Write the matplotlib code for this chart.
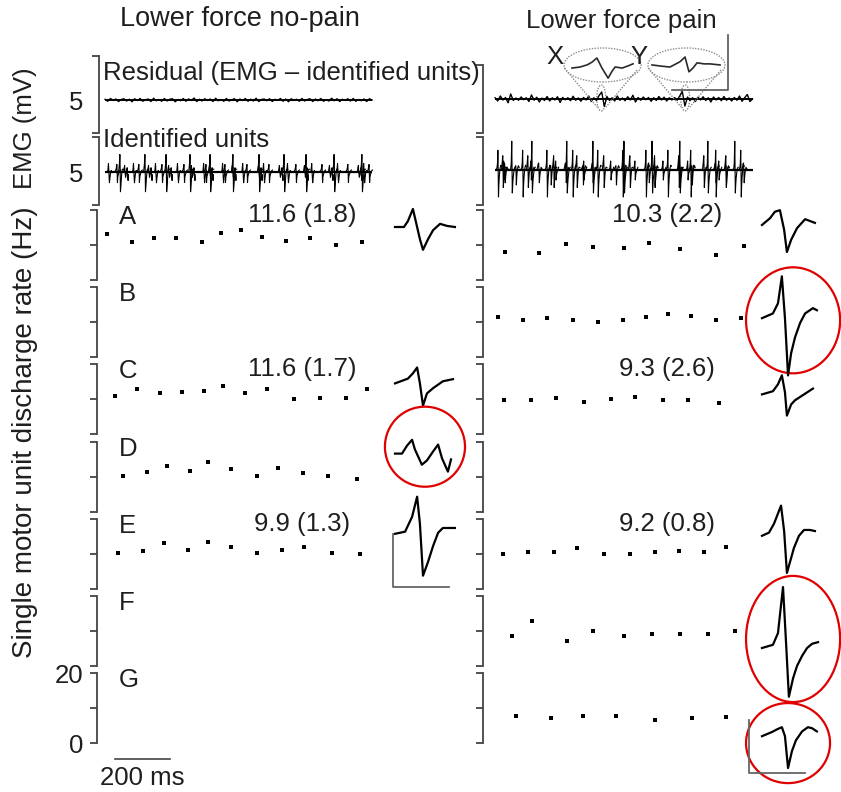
import numpy as np
import matplotlib
matplotlib.use('Agg')
import matplotlib.pyplot as plt
from matplotlib.patches import Ellipse

plt.rcParams['font.family'] = ['Liberation Sans', 'DejaVu Sans']

# ---------------- data ----------------
# discharge times (ms) and instantaneous discharge rates (Hz)
nopain_A_ms = [36, 127, 207, 287, 382, 451, 524, 600, 687, 775, 869, 964]
nopain_A_hz = [13.1, 10.9, 12.0, 12.0, 10.9, 13.4, 14.3, 12.3, 11.1, 12.0, 10.0, 10.9]
nopain_C_ms = [65, 145, 229, 309, 389, 458, 538, 618, 716, 811, 905, 982]
nopain_C_hz = [10.9, 12.9, 11.7, 12.0, 12.3, 13.7, 11.7, 13.1, 10.0, 10.3, 10.3, 12.9]
nopain_D_ms = [95, 182, 255, 338, 404, 487, 582, 658, 749, 840, 945]
nopain_D_hz = [10.3, 11.4, 12.9, 11.7, 14.3, 12.3, 10.3, 12.6, 11.1, 10.3, 9.4]
nopain_E_ms = [76, 167, 244, 331, 404, 487, 582, 673, 753, 855, 956]
nopain_E_hz = [10.3, 10.9, 13.1, 11.1, 13.4, 12.0, 10.3, 11.1, 12.0, 10.3, 10.0]

pain_A_ms = [80, 204, 302, 400, 513, 604, 716, 847, 949]
pain_A_hz = [8.0, 7.7, 10.3, 9.4, 9.1, 10.6, 8.9, 7.1, 9.7]
pain_B_ms = [55, 145, 233, 327, 418, 509, 593, 673, 756, 847, 938]
pain_B_hz = [11.4, 10.6, 11.1, 10.6, 10.0, 10.6, 11.4, 12.3, 11.7, 10.6, 11.1]
pain_C_ms = [76, 175, 265, 367, 465, 553, 655, 745, 858]
pain_C_hz = [9.7, 9.7, 10.3, 9.4, 10.0, 10.6, 9.7, 9.7, 8.9]
pain_E_ms = [73, 164, 258, 342, 440, 535, 625, 713, 804, 884]
pain_E_hz = [10.0, 10.6, 10.6, 11.7, 10.0, 10.0, 10.6, 10.9, 10.6, 12.0]
pain_F_ms = [105, 178, 305, 400, 513, 615, 716, 818, 916]
pain_F_hz = [8.6, 12.9, 7.1, 10.0, 8.6, 9.1, 9.1, 9.1, 10.0]
pain_G_ms = [120, 247, 364, 484, 625, 760, 884]
pain_G_hz = [7.7, 7.1, 7.7, 7.7, 6.6, 7.1, 7.4]

# mean (SD) discharge rate labels per row A..G
row_letters = ['A', 'B', 'C', 'D', 'E', 'F', 'G']
nopain_means = ['11.6 (1.8)', '', '11.6 (1.7)', '', '9.9 (1.3)', '', '']
pain_means = ['10.3 (2.2)', '', '9.3 (2.6)', '', '9.2 (0.8)', '', '']

# motor unit action potential templates (ms, mV)
wave_nopain_A_ms = [0, 3.2, 4.6, 6.4, 7.5, 8.9, 10.0, 11.8, 13.6, 16.1, 18.6, 21.4]
wave_nopain_A_mv = [0, 0, 0.11, 0.34, 0.09, -0.23, -0.43, -0.23, -0.06, 0.06, 0.02, 0]
wave_nopain_C_ms = [0, 4.6, 6.4, 7.9, 8.9, 10.0, 11.4, 13.6, 17.1, 20.7]
wave_nopain_C_mv = [0, 0.09, 0.19, 0.30, 0, -0.42, -0.19, -0.09, 0.04, 0.08]
wave_nopain_D_ms = [0, 2.5, 4.3, 6.1, 7.1, 9.6, 11.4, 13.6, 15.4, 16.8, 18.9, 20.0]
wave_nopain_D_mv = [0, 0, 0.15, 0.26, 0.08, -0.21, -0.13, 0.04, 0.17, -0.09, -0.34, -0.11]
wave_nopain_E_ms = [0, 3.6, 6.1, 7.9, 8.9, 10.0, 11.8, 13.6, 15.4, 17.1, 18.9, 21.4]
wave_nopain_E_mv = [0, 0.04, 0.32, 0.70, 0.19, -0.79, -0.53, -0.23, 0.02, 0.11, 0.11, 0.11]

wave_pain_A_ms = [0, 2.9, 4.6, 6.4, 7.9, 8.9, 10.4, 12.5, 15.4, 18.9]
wave_pain_A_mv = [0, 0.13, 0.25, 0.28, -0.09, -0.51, -0.28, -0.06, 0.11, 0.04]
wave_pain_B_ms = [0, 3.9, 5.7, 7.1, 8.2, 9.3, 10.4, 11.8, 13.6, 15.4, 18.2, 19.6]
wave_pain_B_mv = [0, 0.09, 0.28, 0.79, 0, -1.08, -0.66, -0.36, -0.09, 0.09, 0.19, 0.15]
wave_pain_C_ms = [0, 3.9, 5.7, 7.1, 8.2, 8.9, 10.4, 11.8, 15.0, 18.2]
wave_pain_C_mv = [0, 0.06, 0.19, 0.36, 0.04, -0.40, -0.19, -0.11, 0, 0.11]
wave_pain_E_ms = [0, 2.5, 4.3, 6.8, 7.9, 8.9, 10.4, 11.4, 13.2, 15.0, 17.1, 18.9]
wave_pain_E_mv = [0, 0.06, 0.23, 0.57, 0.09, -0.70, -0.42, -0.23, 0, 0.11, 0.11, 0.09]
wave_pain_F_ms = [0, 3.9, 5.7, 7.5, 8.6, 9.6, 11.1, 12.5, 14.3, 16.1, 17.9, 20.0]
wave_pain_F_mv = [0, 0.06, 0.28, 1.15, 0.09, -0.92, -0.57, -0.34, -0.15, 0, 0.08, 0.11]
wave_pain_G_ms = [0, 3.6, 5.4, 7.1, 8.2, 9.3, 10.7, 12.1, 14.3, 16.4, 17.9, 19.6]
wave_pain_G_mv = [0, 0.08, 0.13, 0.17, 0, -0.60, -0.28, -0.08, 0.09, 0.17, 0.15, 0.09]

# unidentified potentials X and Y in the pain residual
wave_x_ms = [0, 2.9, 5.4, 7.1, 8.9, 10.7, 12.9, 14.3, 15.4, 17.9, 20.0, 21.8]
wave_x_mv = [-0.02, 0, 0.04, 0.09, 0.17, -0.02, -0.21, -0.08, 0, -0.02, 0.02, 0.06]
wave_y_ms = [0, 2.9, 6.4, 10.0, 11.8, 13.2, 14.6, 16.1, 18.6, 20.7, 24.3]
wave_y_mv = [0.02, 0, -0.02, 0.08, 0.17, -0.11, -0.04, 0.06, 0.04, 0.04, 0.02]
xy_times_ms = [430, 735]

# residual EMG (mV), evenly spaced over the trace
residual_nopain = [
    0.03, -0.05, 0.06, -0.02, 0.04, -0.06, 0.02, 0.05, -0.04, 0.03,
    -0.07, 0.05, -0.02, 0.06, -0.05, 0.01, 0.04, -0.06, 0.07, -0.03,
    0.02, -0.05, 0.06, -0.04, 0.03, 0.05, -0.07, 0.02, -0.03, 0.06,
    -0.05, 0.04, -0.02, 0.08, -0.06, 0.03, -0.04, 0.05, -0.02, 0.04,
    -0.06, 0.07, -0.03, 0.02, -0.05, 0.06, -0.04, 0.01, 0.05, -0.07,
    0.04, -0.02, 0.06, -0.05, 0.03, -0.04, 0.07, -0.06, 0.02, 0.04,
    -0.03, 0.05, -0.06, 0.03, -0.02, 0.06, -0.05, 0.04, -0.07, 0.05,
    -0.02, 0.03, -0.05, 0.06, -0.04, 0.02, 0.05, -0.06, 0.04, -0.03,
    0.06, -0.05, 0.02, -0.04, 0.07, -0.03, 0.05, -0.06, 0.03, -0.02,
    0.05, -0.04, 0.06, -0.05, 0.02, -0.03, 0.04, -0.06, 0.05, 0.0]
residual_pain = [
    0.05, -0.08, 0.12, -0.04, 0.06, -0.15, 0.20, -0.06, 0.04, -0.05,
    0.08, -0.03, 0.05, -0.10, 0.16, -0.05, 0.07, -0.12, 0.04, -0.06,
    0.10, -0.08, 0.05, -0.04, 0.09, -0.14, 0.06, -0.03, 0.05, -0.07,
    0.11, -0.05, 0.04, -0.09, 0.06, -0.04, 0.12, -0.10, 0.05, -0.06,
    0.14, 0.28, -0.30, 0.10, -0.06, 0.05, -0.08, 0.12, -0.05, 0.04,
    -0.07, 0.09, -0.04, 0.15, -0.12, 0.06, -0.05, 0.08, -0.03, 0.06,
    -0.09, 0.05, -0.06, 0.10, -0.04, 0.07, -0.08, 0.05, -0.04, 0.06,
    -0.05, 0.12, 0.30, -0.28, 0.08, -0.06, 0.05, -0.10, 0.07, -0.04,
    0.09, -0.06, 0.05, -0.12, 0.08, -0.04, 0.06, -0.07, 0.10, -0.05,
    0.04, -0.08, 0.06, -0.05, 0.12, -0.09, 0.05, 0.18, -0.10, 0.0]
nopain_trace_span = (22, 993)
pain_trace_span = (44, 980)

nopain_circled = ['D']
pain_circled = ['B', 'F', 'G']

# ---------------- layout (pixels) ----------------
W, H = 841, 792
TEXT = '#1e1e1e'
AXIS = '#444444'
FS = 18.5
COL_W = 275                      # 1000 ms
ROW_TOP0, ROW_STEP, ROW_H = 210, 77.2, 70
EMG_PX_PER_MV = 25
WAVE_PX_PER_MS, WAVE_PX_PER_MV = 2.8, 53

fig = plt.figure(figsize=(W / 100, H / 100), dpi=100)


def px_axes(x0, y0, x1, y1):
    ax = fig.add_axes([x0 / W, 1 - y1 / H, (x1 - x0) / W, (y1 - y0) / H])
    ax.patch.set_visible(False)
    return ax


def bracket(ax):
    for s in ('top', 'right', 'bottom'):
        ax.spines[s].set_visible(False)
    ax.spines['left'].set_color(AXIS)
    ax.spines['left'].set_linewidth(1.3)
    ax.set_xticks([])
    ax.set_xlim(0, 1000)
    ax.tick_params(axis='y', which='major', direction='out', length=5, width=1.3,
                   color=AXIS, labelsize=FS, labelcolor=TEXT, pad=5)


def emg_axes(x0, top, bottom, base, show_label):
    ax = px_axes(x0, top, x0 + COL_W, bottom)
    bracket(ax)
    hi = (base - top) / EMG_PX_PER_MV
    lo = -(bottom - base) / EMG_PX_PER_MV
    ax.set_ylim(lo, hi)
    ax.set_yticks([lo, hi])
    ax.set_yticklabels([])
    if show_label:
        ax.set_yticks([0], labels=['5'], minor=True)
        ax.tick_params(axis='y', which='minor', length=0, pad=11,
                       labelsize=FS, labelcolor=TEXT)
    return ax


def wave_axes(x_start, y_base):
    ax = px_axes(x_start - 30, y_base - 85, x_start + 90, y_base + 85)
    ax.set_xlim(-30 / WAVE_PX_PER_MS, 90 / WAVE_PX_PER_MS)
    ax.set_ylim(-85 / WAVE_PX_PER_MV, 85 / WAVE_PX_PER_MV)
    ax.axis('off')
    return ax


# ---- columns ----
columns = [
    dict(x0=97, emg_x0=99, res_top=56, res_base=100, id_base=172, wave_x=395,
         residual=residual_nopain, span=nopain_trace_span, means=nopain_means,
         circled=nopain_circled, labels=True,
         units={'A': (nopain_A_ms, nopain_A_hz, wave_nopain_A_ms, wave_nopain_A_mv, 17),
                'C': (nopain_C_ms, nopain_C_hz, wave_nopain_C_ms, wave_nopain_C_mv, 19),
                'D': (nopain_D_ms, nopain_D_hz, wave_nopain_D_ms, wave_nopain_D_mv, 12),
                'E': (nopain_E_ms, nopain_E_hz, wave_nopain_E_ms, wave_nopain_E_mv, 15)}),
    dict(x0=483, emg_x0=483, res_top=65, res_base=99, id_base=170, wave_x=762,
         residual=residual_pain, span=pain_trace_span, means=pain_means,
         circled=pain_circled, labels=False,
         units={'A': (pain_A_ms, pain_A_hz, wave_pain_A_ms, wave_pain_A_mv, 15),
                'B': (pain_B_ms, pain_B_hz, wave_pain_B_ms, wave_pain_B_mv, 31),
                'C': (pain_C_ms, pain_C_hz, wave_pain_C_ms, wave_pain_C_mv, 30),
                'E': (pain_E_ms, pain_E_hz, wave_pain_E_ms, wave_pain_E_mv, 17),
                'F': (pain_F_ms, pain_F_hz, wave_pain_F_ms, wave_pain_F_mv, 52),
                'G': (pain_G_ms, pain_G_hz, wave_pain_G_ms, wave_pain_G_mv, 63)}),
]

# circle geometry (centre ms, centre mV, width ms, height mV)
circle_geom = {('nopain', 'D'): (10.7, 0.13, 28.6, 1.51),
               ('pain', 'B'): (11.1, -0.04, 33.6, 2.0),
               ('pain', 'F'): (11.1, 0.17, 33.6, 2.38),
               ('pain', 'G'): (9.3, -0.13, 30.0, 1.51)}

for ci, col in enumerate(columns):
    key = 'nopain' if ci == 0 else 'pain'

    # residual EMG
    ax_res = emg_axes(col['emg_x0'], col['res_top'], 133, col['res_base'], col['labels'])
    t_res = np.linspace(col['span'][0], col['span'][1], len(col['residual']))
    ax_res.plot(t_res, col['residual'], color='black', lw=1.0)
    ax_res.hlines(0, *col['span'], color='black', lw=1.4)

    # identified units EMG: templates placed at each discharge
    ax_id = emg_axes(col['emg_x0'], 137, 205, col['id_base'], col['labels'])
    ax_id.hlines(0, *col['span'], color='black', lw=1.6)
    for u, (t_ms, hz, w_ms, w_mv, _) in col['units'].items():
        for t in t_ms:
            ax_id.plot(t + np.array(w_ms) - 8, w_mv, color='black', lw=0.8)

    if col['labels']:
        ax_res.text(15, 1.08, 'Residual (EMG \u2013 identified units)', fontsize=FS,
                    color=TEXT, va='center', ha='left', clip_on=False)
        ax_id.text(15, 1.28, 'Identified units', fontsize=FS, color=TEXT,
                   va='center', ha='left', clip_on=False)

    # discharge rate rows
    for ri, letter in enumerate(row_letters):
        top = ROW_TOP0 + ri * ROW_STEP
        ax = px_axes(col['x0'], top, col['x0'] + COL_W, top + ROW_H)
        bracket(ax)
        ax.set_ylim(0, 20)
        ax.set_yticks([0, 10, 20])
        if col['labels'] and letter == 'G':
            ax.set_yticklabels(['0', '', '20'])
        else:
            ax.set_yticklabels([])
        if col['labels']:
            ax.text(80, 0.9, letter, transform=ax.get_xaxis_transform(),
                    fontsize=FS, color=TEXT, ha='left', va='center')
        if col['means'][ri]:
            cx = 745 if ci == 0 else 669
            ax.text(cx, 0.93, col['means'][ri], transform=ax.get_xaxis_transform(),
                    fontsize=FS, color=TEXT, ha='center', va='center')
        if letter in col['units']:
            t_ms, hz, w_ms, w_mv, base_off = col['units'][letter]
            ax.plot(t_ms, hz, 's', ms=3, color='black', mew=0)
            wax = wave_axes(col['wave_x'], top + base_off)
            wax.plot(w_ms, w_mv, color='black', lw=1.6)
            if letter in col['circled']:
                cx_, cy_, cw, ch = circle_geom[(key, letter)]
                wax.add_patch(Ellipse((cx_, cy_), cw, ch, fill=False, ec='#e00000',
                                      lw=1.6, clip_on=False))
            # amplitude / time calibration: 20 ms, 1 mV
            if (key, letter) == ('nopain', 'E'):
                wax.plot([-0.7, -0.7, 19.3], [0, -1, -1], color='#666666', lw=1.3)
            if (key, letter) == ('pain', 'G'):
                wax.plot([-4.6, -4.6, 15.4], [0.3, -0.7, -0.7], color='#666666', lw=1.3)
        if col['labels'] and letter == 'G':
            ax.plot([65, 265], [-4.6, -4.6], color='#444444', lw=1.2, clip_on=False)
            ax.text(165, -9.9, '200 ms', fontsize=FS, color=TEXT, ha='center',
                    va='center', clip_on=False)

    # magnified unidentified potentials X and Y (pain column)
    if key == 'pain':
        mag = dict(color='#8c8c8c', lw=1.0, ls=(0, (1, 1)), clip_on=False)
        for name, t in zip(['X', 'Y'], xy_times_ms):
            ax_res.add_patch(Ellipse((t + 5, 1.36), 280, 1.36, fill=False, ec='#8c8c8c',
                                     lw=1.0, ls=(0, (1, 1)), clip_on=False))
            ax_res.add_patch(Ellipse((t, 0.04), 33, 1.04, fill=False, ec='#8c8c8c',
                                     lw=1.0, ls=(0, (1, 1)), clip_on=False))
            ax_res.plot([t - 134, t - 15], [1.24, -0.32], **mag)
            ax_res.plot([t + 130, t + 17], [1.16, -0.32], **mag)
            ax_res.text(t - 168, 1.68, name, fontsize=FS, color=TEXT, ha='center',
                        va='center', clip_on=False)
        xax = wave_axes(572, 67)
        xax.plot(wave_x_ms, wave_x_mv, color='#2a2a2a', lw=1.2)
        yax = wave_axes(652, 66)
        yax.plot(wave_y_ms, wave_y_mv, color='#2a2a2a', lw=1.2)
        yax.plot([7.1, 27.1, 27.1], [-0.45, -0.45, 0.58], color='#555555', lw=1.2,
                 clip_on=False)

# titles and axis labels
fig.text(240 / W, 1 - 19 / H, 'Lower force no-pain', fontsize=19.5, color=TEXT,
         ha='center', va='center')
fig.text(621 / W, 1 - 21 / H, 'Lower force pain', fontsize=FS, color=TEXT,
         ha='center', va='center')
fig.text(25 / W, 1 - 128 / H, 'EMG (mV)', fontsize=FS, color=TEXT, rotation=90,
         ha='center', va='center')
fig.text(25 / W, 1 - 432 / H, 'Single motor unit discharge rate (Hz)', fontsize=20,
         color=TEXT, rotation=90, ha='center', va='center')

fig.savefig('out.png', dpi=100)
